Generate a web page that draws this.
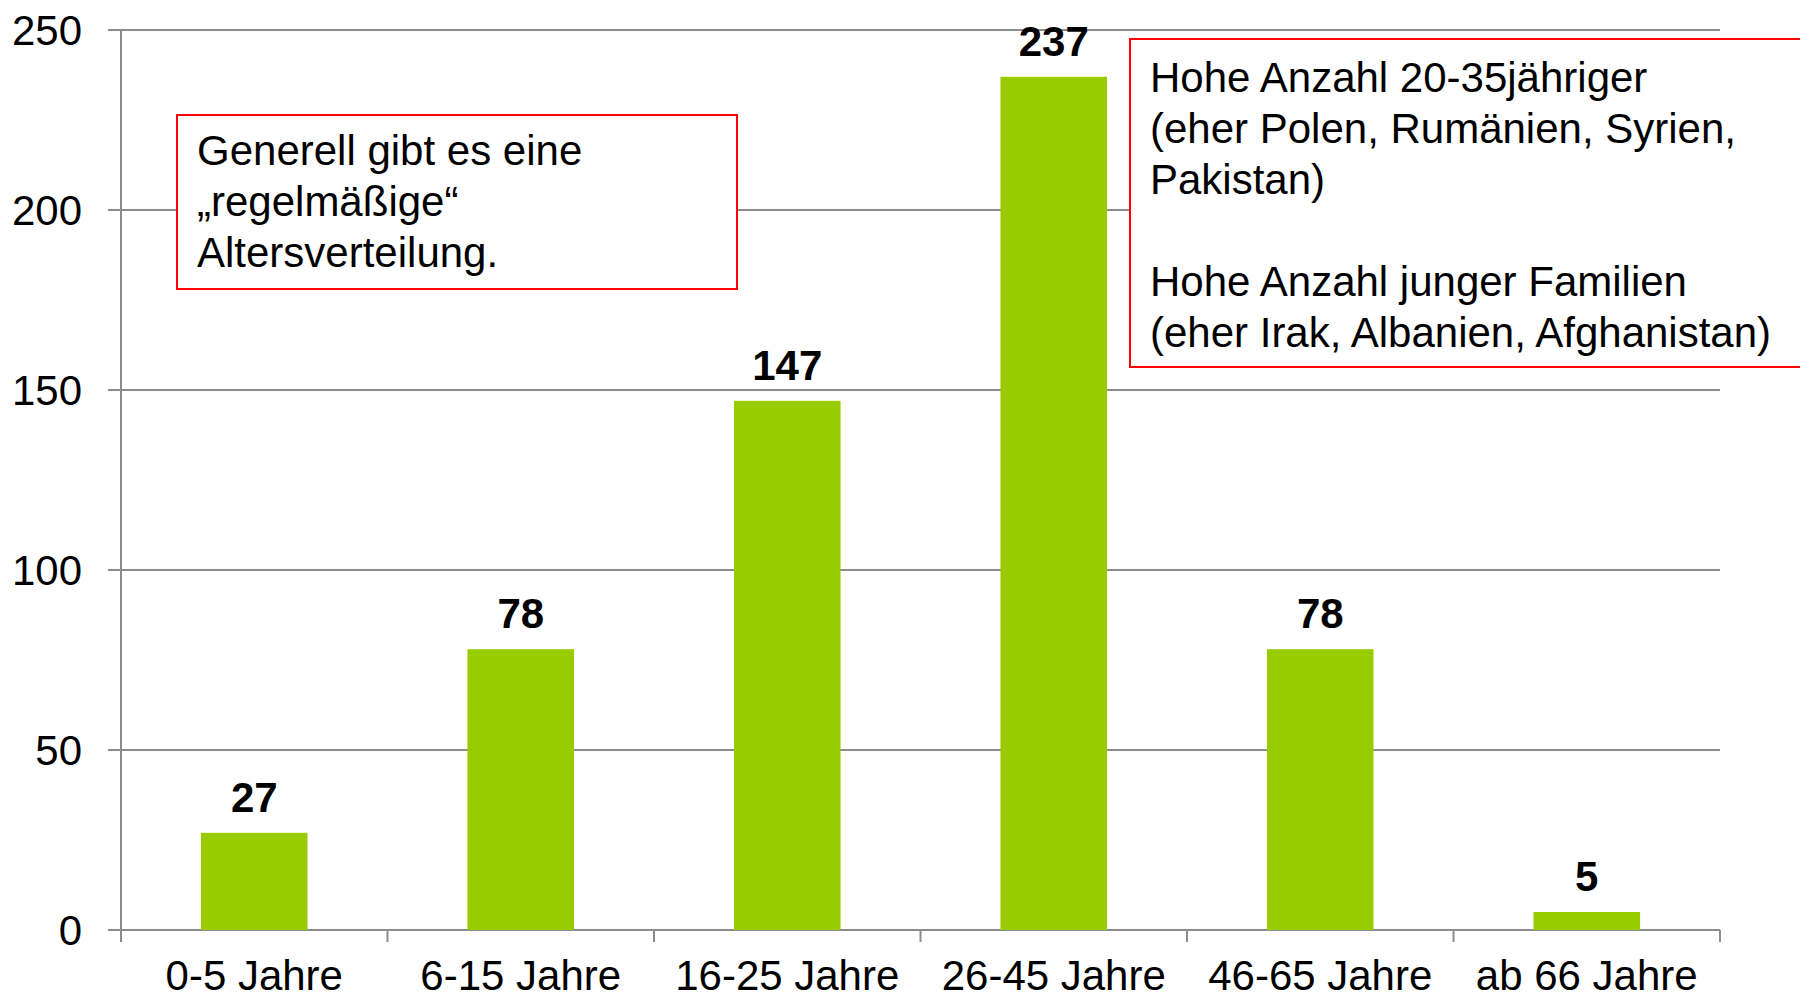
<!DOCTYPE html>
<html>
<head>
<meta charset="utf-8">
<script src="https://cdn.jsdelivr.net/npm/d3@7"></script>
<style>
    body { margin: 0; background: #fff; }
    svg { display: block; font-family: "Liberation Sans", Arial, sans-serif; }
</style>
</head>
<body>
<div id="chart"></div>
<script>
const categories = ["0-5 Jahre", "6-15 Jahre", "16-25 Jahre", "26-45 Jahre", "46-65 Jahre", "ab 66 Jahre"]
const values = [27, 78, 147, 237, 78, 5]
const yTicks = [0, 50, 100, 150, 200, 250]
const noteLeft = ["Generell gibt es eine", "\u201Eregelm\u00E4\u00DFige\u201C", "Altersverteilung."]
const noteRight = [
    "Hohe Anzahl 20-35j\u00E4hriger",
    "(eher Polen, Rum\u00E4nien, Syrien,",
    "Pakistan)",
    "",
    "Hohe Anzahl junger Familien",
    "(eher Irak, Albanien, Afghanistan)"
]

var option = {
    width: 1800,
    height: 999,
    left: 121,
    right: 1720,
    top: 30,
    bottom: 930,
    barColor: "#99cc00",
    gridColor: "#8c8c8c",
    boxColor: "#ff0000",
    fontSize: 42
}

var svg = d3
    .select("#chart")
    .append("svg")
    .attr("width", option.width)
    .attr("height", option.height)

var x = d3
    .scaleBand()
    .domain(categories)
    .range([option.left, option.right])
    .paddingInner(0.6)
    .paddingOuter(0.3)

var y = d3
    .scaleLinear()
    .domain([0, 250])
    .range([option.bottom, option.top])

// gridlines + y ticks
svg
    .append("g")
    .selectAll("line")
    .data(yTicks)
    .enter()
    .append("line")
    .attr("x1", option.left - 13)
    .attr("x2", option.right)
    .attr("y1", d => y(d))
    .attr("y2", d => y(d))
    .attr("stroke", option.gridColor)
    .attr("stroke-width", 2)

svg
    .append("g")
    .selectAll("text")
    .data(yTicks)
    .enter()
    .append("text")
    .attr("x", 82)
    .attr("y", d => y(d) + 14.5)
    .attr("text-anchor", "end")
    .attr("font-size", option.fontSize)
    .attr("fill", "#000")
    .text(d => d)

// y axis line
svg
    .append("line")
    .attr("x1", option.left)
    .attr("x2", option.left)
    .attr("y1", option.top)
    .attr("y2", option.bottom + 12)
    .attr("stroke", option.gridColor)
    .attr("stroke-width", 2)

// x category ticks at band edges
var step = x.step()
var edges = d3.range(categories.length + 1).map(i => option.left + i * step)
svg
    .append("g")
    .selectAll("line")
    .data(edges)
    .enter()
    .append("line")
    .attr("x1", d => d)
    .attr("x2", d => d)
    .attr("y1", option.bottom)
    .attr("y2", option.bottom + 12)
    .attr("stroke", option.gridColor)
    .attr("stroke-width", 2)

svg
    .append("g")
    .selectAll("text")
    .data(categories)
    .enter()
    .append("text")
    .attr("x", d => x(d) + x.bandwidth() / 2)
    .attr("y", 990)
    .attr("text-anchor", "middle")
    .attr("font-size", option.fontSize)
    .attr("fill", "#000")
    .text(d => d)

// bars
var data = categories.map((c, i) => ({ cat: c, val: values[i] }))
svg
    .append("g")
    .selectAll("rect")
    .data(data)
    .enter()
    .append("rect")
    .attr("x", d => x(d.cat))
    .attr("width", x.bandwidth())
    .attr("y", d => y(d.val))
    .attr("height", d => y(0) - y(d.val))
    .attr("fill", option.barColor)

// value labels
svg
    .append("g")
    .selectAll("text")
    .data(data)
    .enter()
    .append("text")
    .attr("x", d => x(d.cat) + x.bandwidth() / 2)
    .attr("y", d => y(d.val) - 21)
    .attr("text-anchor", "middle")
    .attr("font-size", option.fontSize)
    .attr("font-weight", "bold")
    .attr("fill", "#000")
    .text(d => d.val)

// annotation boxes
function note(lines, box, textX, firstBaseline) {
    var g = svg.append("g")
    g.append("rect")
	.attr("x", box[0])
	.attr("y", box[1])
	.attr("width", box[2])
	.attr("height", box[3])
	.attr("fill", "#fff")
	.attr("stroke", option.boxColor)
	.attr("stroke-width", 2)
    g.selectAll("text")
	.data(lines)
	.enter()
	.append("text")
	.attr("x", textX)
	.attr("y", (d, i) => firstBaseline + i * 51)
	.attr("font-size", option.fontSize)
	.attr("fill", "#000")
	.text(d => d)
}

note(noteLeft, [177, 115, 560, 174], 197, 165)
note(noteRight, [1130, 39, 700, 328], 1150, 92)
</script>
</body>
</html>
